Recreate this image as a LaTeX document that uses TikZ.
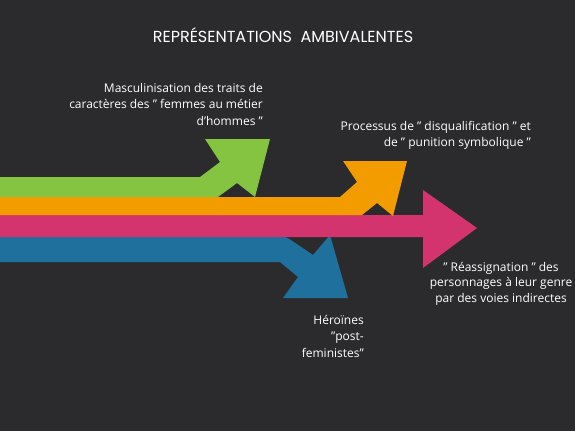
\documentclass[tikz,border=0pt]{standalone}
\usepackage{fontspec}
\setmainfont{Open Sans}
\newfontfamily\titlefont{Poppins}
\definecolor{bg}{HTML}{2B2B2D}
\definecolor{cgreen}{HTML}{84C441}
\definecolor{corange}{HTML}{F39C00}
\definecolor{cpink}{HTML}{D3346E}
\definecolor{cblue}{HTML}{20709E}
\begin{document}
\begin{tikzpicture}[x=1pt,y=-1pt,
  lbl/.style={text=white,font=\fontsize{12}{16.5}\selectfont,inner sep=0pt}]
\fill[bg] (0,0) rectangle (575,431);
\useasboundingbox (0,0) rectangle (575,431);
% blue
\fill[cblue] (0,236) -- (270,236) [rounded corners=6pt] -- (285,236) -- (299,245.5) [sharp corners] -- (313,255) -- (330,235) -- (348,298) -- (283,298) -- (298,277) -- (280,262) -- (0,262) -- cycle;
% pink
\fill[cpink] (0,215) -- (423,215) -- (423,190) -- (477,228) -- (423,268) -- (423,237) -- (0,237) -- cycle;
% orange
\fill[corange] (0,197) -- (340,197) -- (357,182) -- (343,161) -- (407,161) -- (393,216) -- (377,203) -- (362,215) -- (0,215) -- cycle;
% green
\fill[cgreen] (0,177) -- (200,177) -- (220,162) -- (205,139) -- (270,139) -- (255,197) -- (237,183) -- (218,197) -- (0,197) -- cycle;
\node[text=white,font=\titlefont\fontsize{16}{19}\selectfont,inner sep=0pt] (title) at (283,35) {REPRÉSENTATIONS\ \ AMBIVALENTES};
\node[lbl,align=right,anchor=north east] (lg) at (263,83) {Masculinisation des traits de\\caractères des " femmes au métier\\d’hommes "};
\node[lbl,align=right,anchor=north east] (lo) at (531,121) {Processus de " disqualification " et\\de " punition symbolique "};
\node[lbl,align=center,anchor=north,font=\fontsize{12}{15.5}\selectfont] (lp) at (501,262) {" Réassignation " des\\personnages à leur genre\\par des voies indirectes};
\node[lbl,align=right,anchor=north east] (lb) at (364,315) {Héroïnes\\"post-\\feministes"};
\end{tikzpicture}
\end{document}
